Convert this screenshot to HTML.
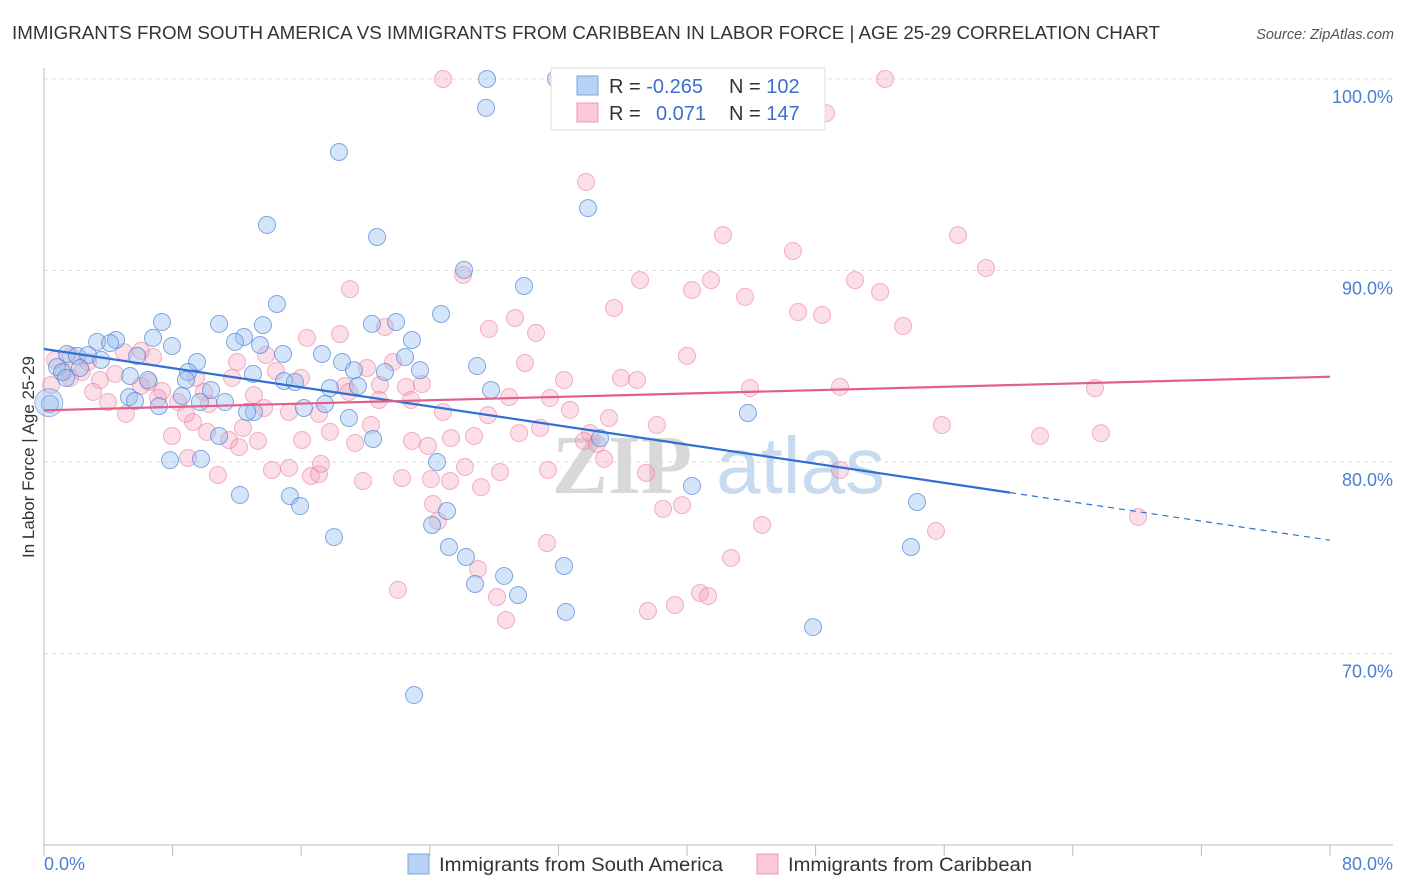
<!DOCTYPE html>
<html><head><meta charset="utf-8">
<style>
body{margin:0;background:#fff;font-family:"Liberation Sans",sans-serif;}
#wrap{position:relative;width:1406px;height:892px;overflow:hidden;}
</style></head>
<body>
<div id="wrap">
<svg id="chart" width="1406" height="892">
  <text x="12" y="39" font-size="18" fill="#333" textLength="1148" lengthAdjust="spacingAndGlyphs">IMMIGRANTS FROM SOUTH AMERICA VS IMMIGRANTS FROM CARIBBEAN IN LABOR FORCE | AGE 25-29 CORRELATION CHART</text>
  <text x="1394" y="39" font-size="14.5" fill="#555" font-style="italic" text-anchor="end">Source: ZipAtlas.com</text>
  <g>
    <text x="552" y="493" font-size="84" fill="#d8d8d8" font-family="Liberation Serif,serif" font-weight="bold">ZIP</text>
    <text x="716" y="493" font-size="80" fill="#c8daf0">atlas</text>
  </g>
  <g id="grid"></g>
  <g id="axes"></g>
  <g id="pinkPts"></g>
  <g id="bluePts"></g>
  <g id="trends"></g>
  <text transform="translate(34,457) rotate(-90)" font-size="17" fill="#333" text-anchor="middle">In Labor Force | Age 25-29</text>
  <g>
    <rect x="551" y="68" width="274" height="62" fill="#fff" stroke="#ddd"/>
    <rect x="577" y="76" width="21" height="19" fill="#b7d2f4" stroke="#7aa6e0"/>
    <rect x="577" y="103" width="21" height="19" fill="#fbc8d6" stroke="#eb9ab3"/>
    <text x="609" y="93" font-size="20" fill="#333">R = <tspan fill="#3b6fd0">-0.265</tspan></text>
    <text x="729" y="93" font-size="20" fill="#333">N = <tspan fill="#3b6fd0">102</tspan></text>
    <text x="609" y="120" font-size="20" fill="#333">R = <tspan fill="#3b6fd0" x="656">0.071</tspan></text>
    <text x="729" y="120" font-size="20" fill="#333">N = <tspan fill="#3b6fd0">147</tspan></text>
  </g>
  <g>
    <rect x="408" y="854" width="21" height="20" fill="#b7d2f4" stroke="#7aa6e0"/>
    <text x="439" y="871" font-size="19" fill="#333" textLength="284" lengthAdjust="spacingAndGlyphs">Immigrants from South America</text>
    <rect x="757" y="854" width="21" height="20" fill="#fbc8d6" stroke="#eb9ab3"/>
    <text x="788" y="871" font-size="19" fill="#333" textLength="244" lengthAdjust="spacingAndGlyphs">Immigrants from Caribbean</text>
  </g>
</svg>
</div>
<script>
const yTicks=[100,90,80,70];
const yTickLabels=["100.0%","90.0%","80.0%","70.0%"];
const xTickVals=[0,8,16,24,32,40,48,56,64,72,80];
const xEndLabels=["0.0%","80.0%"];
const blueX=[27.56,31.85,27.5,18.35,13.87,20.72,33.84,26.13,29.86,14.49,24.7,7.34,10.89,13.62,21.9,20.4,12.44,11.88,6.78,4.48,3.3,7.96,4.11,1.43,2.05,2.74,3.55,14.87,17.29,22.46,18.54,9.52,26.94,19.28,21.21,23.39,13.0,8.96,5.35,6.47,8.83,14.93,15.61,19.53,17.79,27.81,10.39,8.58,5.29,5.66,7.15,9.7,11.26,16.17,17.48,13.06,12.63,18.97,20.47,34.59,43.79,24.45,9.77,12.19,15.3,15.93,25.07,24.14,18.04,25.19,26.25,32.35,28.62,26.81,29.49,32.47,47.84,23.02,40.31,54.31,53.93,0.37,0.81,1.12,2.24,1.37,5.79,22.89,13.44,10.89,7.84];
const blueY=[100,100,98.49,96.19,92.38,91.75,93.26,90.03,89.19,88.25,87.73,87.31,87.21,87.15,87.31,87.21,86.53,86.27,86.48,86.37,86.27,86.06,86.21,85.64,85.54,85.59,85.33,85.64,85.64,85.48,85.22,85.22,85.01,84.8,84.7,84.8,84.6,84.7,84.49,84.28,84.28,84.23,84.18,83.97,83.86,83.76,83.76,83.45,83.39,83.19,82.92,83.13,83.13,82.82,83.03,82.61,82.61,82.3,81.2,81.25,82.56,80.0,80.16,78.28,78.22,77.7,77.44,76.71,76.08,75.56,75.04,74.57,74.05,73.63,73.05,72.17,71.38,67.83,78.75,77.91,75.56,83.03,84.96,84.7,84.91,84.39,85.54,86.37,86.11,81.36,80.1];
const pinkX=[24.82,52.32,48.65,33.72,42.24,56.86,46.59,58.6,26.07,37.08,41.49,50.45,40.31,52.01,19.04,43.61,35.46,46.91,48.4,53.44,29.3,27.68,30.61,21.21,16.36,18.41,40.0,29.92,6.78,12.01,13.81,4.98,6.03,1.68,0.68,2.36,1.62,3.48,4.42,0.44,3.05,3.98,6.53,7.34,8.34,9.46,10.26,11.7,14.43,15.99,18.72,20.09,21.71,23.51,22.52,20.9,32.35,35.89,36.89,28.93,31.48,32.72,27.62,24.82,22.83,20.84,18.97,17.11,15.24,13.69,12.38,10.14,7.96,9.27,11.51,13.31,16.05,17.79,19.35,20.34,22.89,23.89,25.32,26.75,29.55,30.86,33.97,35.15,38.13,43.92,49.52,65.38,55.86,61.96,65.75,8.96,10.82,14.18,15.24,16.61,17.11,19.84,22.27,24.07,25.26,26.19,27.19,28.37,34.84,37.45,38.51,39.69,44.67,55.49,68.06,24.2,24.51,31.29,42.74,27.0,22.02,28.18,28.74,37.57,39.25,40.81,41.31,49.52,1.24,2.74,6.03,8.83,5.1,7.09,12.13,9.95,13.06,17.23,31.35,33.59,34.4];
const pinkY=[100,100,98.22,94.62,91.85,91.85,91.02,90.13,89.77,89.5,89.5,89.5,88.98,88.88,89.03,88.62,88.04,87.83,87.68,87.1,87.52,86.95,86.74,87.05,86.48,86.68,85.54,85.17,85.48,85.22,85.59,85.74,85.8,85.54,85.33,84.7,84.39,84.28,84.6,84.02,83.66,83.13,84.18,83.71,83.13,84.39,83.03,84.39,84.75,84.39,83.97,84.91,85.22,84.07,83.92,84.02,84.28,84.39,84.28,83.39,83.34,82.72,82.45,82.61,83.24,83.24,83.66,82.51,82.61,82.82,81.78,81.57,81.36,82.09,81.15,81.1,81.15,81.57,80.99,81.93,81.1,80.84,81.25,81.36,81.51,81.78,81.51,82.3,81.93,83.86,83.92,83.86,81.93,81.36,81.51,80.21,79.32,79.58,79.69,79.27,79.37,79.01,79.16,79.11,79.01,79.74,78.69,79.48,80.16,79.43,77.55,77.75,76.71,76.4,77.13,77.81,76.92,75.77,74.99,74.41,73.32,72.95,71.75,72.22,72.53,73.16,73.0,79.58,84.7,85.22,83.97,82.51,82.51,83.34,80.78,83.66,83.5,79.9,79.58,81.1,80.94];
const blueTrend=[85.9,-0.1248];
const pinkTrend=[82.7,0.0219];
const blueSolidEnd=60.1;

const NS="http://www.w3.org/2000/svg";
const X0=44,X1=1330,Y100=79,PXPER=19.15;
function sx(v){return X0+(v/80)*(X1-X0);}
function sy(v){return Y100+(100-v)*PXPER;}
function mk(tag,attrs,parent){const e=document.createElementNS(NS,tag);for(const k in attrs)e.setAttribute(k,attrs[k]);parent.appendChild(e);return e;}

const grid=document.getElementById('grid');
yTicks.forEach((t,i)=>{
  const l=mk('line',{x1:X0,x2:1393,y1:sy(t),y2:sy(t),stroke:'#ddd','stroke-dasharray':'4,4'},grid);
  
  
  const tx=mk('text',{x:1393,y:sy(t)+24,'font-size':18,fill:'#4a7fd4','text-anchor':'end'},grid);
  tx.textContent=yTickLabels[i];
  
  
});
const axes=document.getElementById('axes');
const ya=mk('line',{x1:X0,x2:X0,y1:68,y2:845,stroke:'#bbb'},axes);


const xa=mk('line',{x1:X0,x2:1393,y1:845,y2:845,stroke:'#bbb'},axes);


xTickVals.forEach(v=>{
  const t=mk('line',{x1:sx(v),x2:sx(v),y1:845,y2:856,stroke:'#bbb'},axes);
  
  
});
const xl0=mk('text',{x:44,y:870,'font-size':18,fill:'#4a7fd4'},axes);
xl0.textContent=xEndLabels[0];


const xl1=mk('text',{x:1393,y:870,'font-size':18,fill:'#4a7fd4','text-anchor':'end'},axes);
xl1.textContent=xEndLabels[1];



const pg=document.getElementById('pinkPts');
pinkX.forEach((x,i)=>{
  const c=mk('circle',{cx:sx(x),cy:sy(pinkY[i]),r:8.5,fill:'rgba(244,160,185,0.35)',stroke:'rgba(232,120,155,0.55)','stroke-width':1},pg);
  
  
});
const bg=document.getElementById('bluePts');
blueX.forEach((x,i)=>{
  const c=mk('circle',{cx:sx(x),cy:sy(blueY[i]),r:8.5,fill:'rgba(150,190,240,0.4)',stroke:'rgba(70,125,210,0.65)','stroke-width':1},bg);
  
  
});
const big=mk('circle',{cx:sx(0.3),cy:sy(83.1),r:14,fill:'rgba(150,190,240,0.4)',stroke:'rgba(70,125,210,0.5)'},bg);



const tr=document.getElementById('trends');
function f(tc,x){return tc[0]+tc[1]*x;}
const b1=mk('line',{x1:sx(0),y1:sy(f(blueTrend,0)),x2:sx(blueSolidEnd),y2:sy(f(blueTrend,blueSolidEnd)),stroke:'#2f6fd6','stroke-width':2.2},tr);


const b2=mk('line',{x1:sx(blueSolidEnd),y1:sy(f(blueTrend,blueSolidEnd)),x2:sx(80),y2:sy(f(blueTrend,80)),stroke:'#2f6fd6','stroke-width':1.2,'stroke-dasharray':'6,5'},tr);


const p1=mk('line',{x1:sx(0),y1:sy(f(pinkTrend,0)),x2:sx(80),y2:sy(f(pinkTrend,80)),stroke:'#e0608a','stroke-width':2.2},tr);


</script>
</body></html>
